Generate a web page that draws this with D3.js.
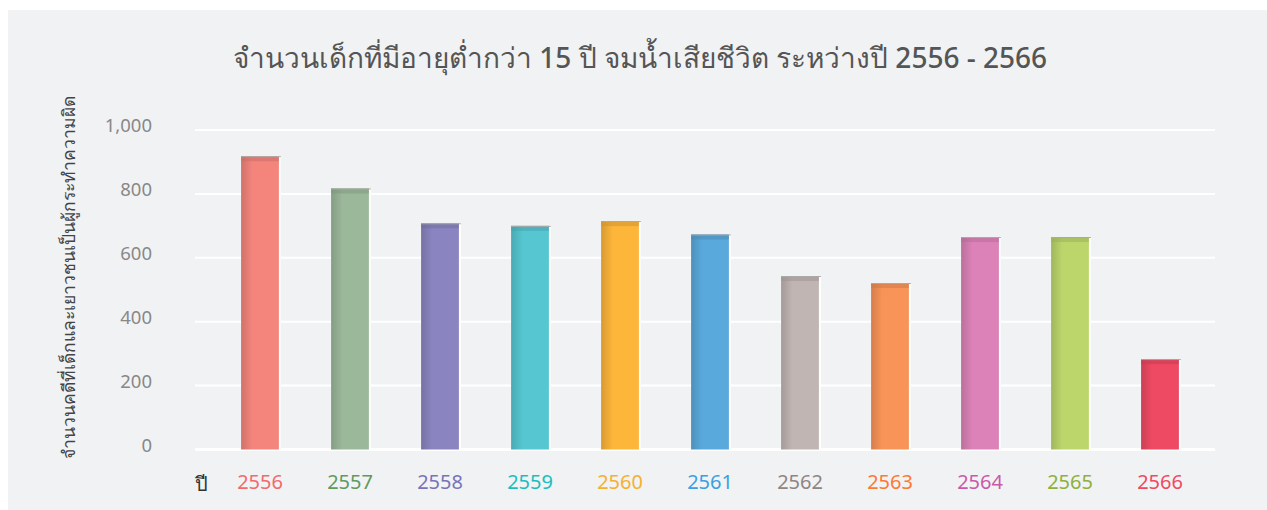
<!DOCTYPE html>
<html>
<head>
<meta charset="utf-8">
<script src="https://cdn.jsdelivr.net/npm/d3@7"></script>
<style>
  body { margin: 0; background: #fff; font-family: "Noto Sans", "DejaVu Sans", sans-serif; }
</style>
</head>
<body>
<div id="main"></div>
<script>
const years = ["2556", "2557", "2558", "2559", "2560", "2561", "2562", "2563", "2564", "2565", "2566"];
const counts = [918, 817, 708, 700, 715, 673, 543, 521, 665, 665, 283];
const barColors = ["#f4857d", "#9bb89a", "#8a85c0", "#56c6d1", "#fdb53a", "#5aa9dc",
    "#c0b5b2", "#f99458", "#dc82b8", "#bcd66c", "#ef4a63"];
const labelColors = ["#f26b6b", "#5f9a5f", "#7a72b8", "#1dbdbd", "#f5b030", "#3aa0e0",
    "#8f8582", "#fb7a35", "#c95aaa", "#8fb03c", "#ee4a63"];
const yTicks = [0, 200, 400, 600, 800, 1000];

const W = 1267, H = 510;
const svg = d3.select('#main').append('svg')
    .attr('width', W)
    .attr('height', H);

// panel
svg.append('rect')
    .attr('x', 8).attr('y', 10)
    .attr('width', W - 8).attr('height', H - 10)
    .attr('fill', '#f1f2f4');

svg.append('text')
    .attr('x', 640).attr('y', 68)
    .attr('text-anchor', 'middle')
    .attr('fill', '#555')
    .style('font-size', '28px')
    .style('font-weight', '500')
    .text('จำนวนเด็กที่มีอายุต่ำกว่า 15 ปี จมน้ำเสียชีวิต ระหว่างปี 2556 - 2566');

const x = d3.scaleBand()
    .domain(years)
    .range([215, 1205])
    .paddingInner(0.58)
    .paddingOuter(0.29);

const y = d3.scaleLinear()
    .domain([0, 1000])
    .range([449.5, 130]);

// grid
svg.append('g')
    .selectAll('line')
    .data(yTicks)
    .enter()
    .append('line')
    .attr('x1', 195).attr('x2', 1215)
    .attr('y1', d => y(d)).attr('y2', d => y(d))
    .attr('stroke', '#fff')
    .attr('stroke-width', d => d === 0 ? 3 : 2);

const yAxis = d3.axisLeft(y)
    .tickValues(yTicks)
    .tickFormat(d3.format(','))
    .tickSize(0)
    .tickPadding(0);

const yg = svg.append('g')
    .attr('transform', 'translate(152,-4)')
    .call(yAxis);
yg.select('.domain').remove();
yg.selectAll('text')
    .attr('fill', '#888')
    .style('font-size', '18.5px')
    .style('font-family', '"Noto Sans", sans-serif');

svg.append('text')
    .attr('transform', 'translate(75,277) rotate(-90)')
    .attr('text-anchor', 'middle')
    .attr('fill', '#444')
    .style('font-size', '17.5px')
    .style('font-weight', '500')
    .text('จำนวนคดีที่เด็กและเยาวชนเป็นผู้กระทำความผิด');

// gradients
const defs = svg.append('defs');
barColors.forEach(function (c, i) {
    const dark = d3.color(c).darker(0.45);
    const g = defs.append('linearGradient')
        .attr('id', 'g' + i)
        .attr('x1', 0).attr('x2', 1).attr('y1', 0).attr('y2', 0);
    g.append('stop').attr('offset', '0%').attr('stop-color', dark);
    g.append('stop').attr('offset', '30%').attr('stop-color', c);
    g.append('stop').attr('offset', '100%').attr('stop-color', c);
});

const bars = svg.append('g')
    .selectAll('g')
    .data(counts)
    .enter()
    .append('g');

// white shadow on the right
bars.append('rect')
    .attr('x', (d, i) => x(years[i]) + 2)
    .attr('y', d => y(d))
    .attr('width', x.bandwidth())
    .attr('height', d => y(0) - y(d))
    .attr('fill', '#fff');

bars.append('rect')
    .attr('x', (d, i) => x(years[i]))
    .attr('y', d => y(d))
    .attr('width', x.bandwidth())
    .attr('height', d => y(0) - y(d))
    .attr('fill', (d, i) => 'url(#g' + i + ')');

// darker top edge
bars.append('rect')
    .attr('x', (d, i) => x(years[i]))
    .attr('y', d => y(d))
    .attr('width', x.bandwidth())
    .attr('height', 5)
    .attr('fill', (d, i) => d3.color(barColors[i]).darker(0.6))
    .attr('opacity', 0.5);

bars.append('line')
    .attr('x1', (d, i) => x(years[i]))
    .attr('x2', (d, i) => x(years[i]) + x.bandwidth() + 2)
    .attr('y1', d => y(d) + 0.5)
    .attr('y2', d => y(d) + 0.5)
    .attr('stroke', '#aaa')
    .attr('stroke-width', 1);

// x labels
const xAxis = d3.axisBottom(x).tickSize(0).tickPadding(0);
const xg = svg.append('g')
    .attr('transform', 'translate(0,475)')
    .call(xAxis);
xg.select('.domain').remove();
xg.selectAll('text')
    .attr('fill', (d, i) => labelColors[i])
    .style('font-size', '20px')
    .style('font-family', '"Noto Sans", sans-serif');

svg.append('text')
    .attr('x', 201).attr('y', 491)
    .attr('text-anchor', 'middle')
    .attr('fill', '#333')
    .style('font-size', '20px')
    .text('ปี');
</script>
</body>
</html>
